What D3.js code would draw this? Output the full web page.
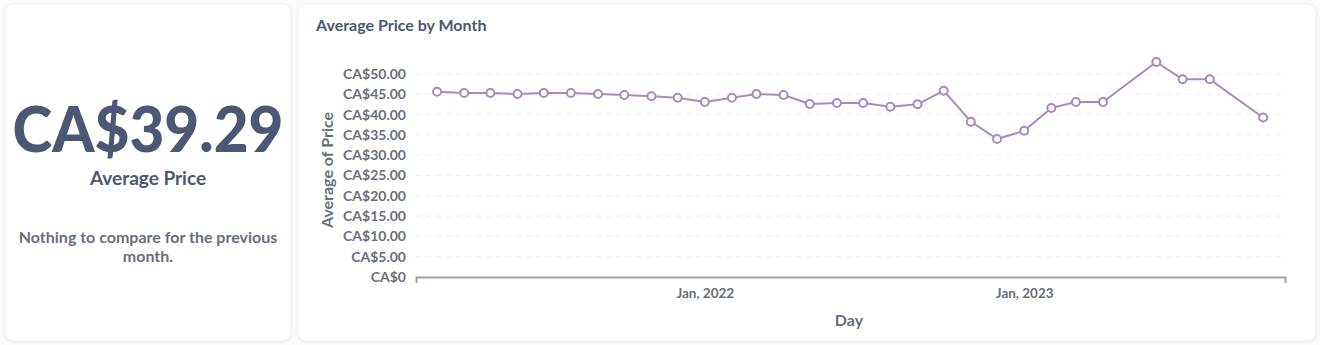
<!DOCTYPE html>
<html>
<head>
<meta charset="utf-8">
<script src="https://cdn.jsdelivr.net/npm/d3@7"></script>
<style>
  html, body { margin: 0; padding: 0; background: #f9fbfc; }
  svg { display: block; font-family: Lato, "Noto Sans", sans-serif; }
</style>
</head>
<body>
<svg id="dash" width="1320" height="345"></svg>
<script>
// Monthly average price (CA$)
const months = [
  "2021-03","2021-04","2021-05","2021-06","2021-07","2021-08","2021-09","2021-10",
  "2021-11","2021-12","2022-01","2022-02","2022-03","2022-04","2022-05","2022-06",
  "2022-07","2022-08","2022-09","2022-10","2022-11","2022-12","2023-01","2023-02",
  "2023-03","2023-04","2023-06","2023-07","2023-08","2023-10"
];
const prices = [
  45.64, 45.32, 45.32, 45.07, 45.32, 45.32, 45.07, 44.83,
  44.50, 44.16, 43.10, 44.16, 45.07, 44.83, 42.60, 42.86,
  42.86, 41.95, 42.54, 45.89, 38.25, 33.99, 36.03, 41.63,
  43.10, 43.10, 52.96, 48.69, 48.69, 39.29
];
const yTicks = [0, 5, 10, 15, 20, 25, 30, 35, 40, 45, 50];
const xTickDates = ["2022-01", "2023-01"];

const kpiValue = 39.29;
const kpiLabel = "Average Price";
const kpiNote = ["Nothing to compare for the previous", "month."];
const chartTitle = "Average Price by Month";
const yTitle = "Average of Price";
const xTitle = "Day";

const parseMonth = d3.timeParse("%Y-%m");
const data = months.map((m, i) => ({ date: parseMonth(m), value: prices[i] }));

const svg = d3.select("#dash");
const defs = svg.append("defs");
const shadow = defs.append("filter").attr("id", "cardShadow")
  .attr("x", "-5%").attr("y", "-5%").attr("width", "110%").attr("height", "110%");
shadow.append("feDropShadow").attr("dx", 0).attr("dy", 1).attr("stdDeviation", 1.5)
  .attr("flood-color", "#000").attr("flood-opacity", 0.06);

// Cards
const cards = [
  { x: 5, y: 4, w: 286, h: 337 },
  { x: 298, y: 4, w: 1018, h: 337 }
];
svg.selectAll("rect.card").data(cards).join("rect")
  .attr("class", "card")
  .attr("x", d => d.x).attr("y", d => d.y)
  .attr("width", d => d.w).attr("height", d => d.h)
  .attr("rx", 8)
  .attr("fill", "#ffffff")
  .attr("stroke", "#eceff2")
  .attr("filter", "url(#cardShadow)");

// Scalar card
const fmtMoney = v => "CA$" + d3.format(",.2f")(v);
const kpi = svg.append("g").attr("text-anchor", "middle");
kpi.append("text")
  .attr("x", 148).attr("y", 152)
  .attr("font-size", 62).attr("font-weight", 900)
  .attr("fill", "#4c5773")
  .attr("textLength", 271).attr("lengthAdjust", "spacingAndGlyphs")
  .text(fmtMoney(kpiValue));
kpi.append("text")
  .attr("x", 148).attr("y", 185)
  .attr("font-size", 19).attr("font-weight", 700)
  .attr("fill", "#4c5773")
  .text(kpiLabel);
kpi.selectAll("text.note").data(kpiNote).join("text")
  .attr("class", "note")
  .attr("x", 148).attr("y", (d, i) => 243 + i * 19)
  .attr("font-size", 16).attr("font-weight", 700)
  .attr("fill", "#696e7b")
  .text(d => d);

// Line chart card
svg.append("text")
  .attr("x", 316).attr("y", 31)
  .attr("font-size", 16).attr("font-weight", 700)
  .attr("fill", "#4c5773")
  .text(chartTitle);

const y = d3.scaleLinear().domain([0, 50]).range([277, 74]);

const first = data[0].date, last = data[data.length - 1].date;
const x = d3.scaleTime()
  .domain([d3.timeDay.offset(first, -24), d3.timeDay.offset(last, 25)])
  .range([416, 1285]);

// Gridlines
svg.append("g")
  .selectAll("line").data(yTicks.filter(t => t > 0)).join("line")
  .attr("x1", 416).attr("x2", 1285)
  .attr("y1", d => y(d)).attr("y2", d => y(d))
  .attr("stroke", "#ededed").attr("stroke-dasharray", "5,5");

// Y axis labels
const yFmt = v => v === 0 ? "CA$0" : "CA$" + d3.format(".2f")(v);
const yAxis = svg.append("g")
  .attr("transform", "translate(416,0)")
  .call(d3.axisLeft(y).tickValues(yTicks).tickFormat(yFmt).tickSize(0).tickPadding(10));
yAxis.select(".domain").remove();
yAxis.selectAll("text")
  .attr("font-family", "Lato, sans-serif")
  .attr("font-size", 14).attr("font-weight", 700)
  .attr("fill", "#696e7b");

// X axis
const xFmt = d3.timeFormat("%b, %Y");
const xAxis = svg.append("g")
  .attr("transform", "translate(0,277)")
  .call(d3.axisBottom(x)
    .tickValues(xTickDates.map(parseMonth))
    .tickFormat(xFmt)
    .tickSizeInner(0).tickSizeOuter(6).tickPadding(11));
xAxis.select(".domain").attr("stroke", "#9da1b0").attr("stroke-width", 2);
xAxis.selectAll("text")
  .attr("font-family", "Lato, sans-serif")
  .attr("font-size", 13.5).attr("font-weight", 700)
  .attr("fill", "#696e7b");

// Axis titles
svg.append("text")
  .attr("transform", "translate(333,170) rotate(-90)")
  .attr("text-anchor", "middle")
  .attr("font-size", 16).attr("font-weight", 700)
  .attr("fill", "#696e7b")
  .text(yTitle);
svg.append("text")
  .attr("x", 849).attr("y", 326)
  .attr("text-anchor", "middle")
  .attr("font-size", 16).attr("font-weight", 700)
  .attr("fill", "#696e7b")
  .text(xTitle);

// Series
const line = d3.line().x(d => x(d.date)).y(d => y(d.value));
svg.append("path")
  .datum(data)
  .attr("fill", "none")
  .attr("stroke", "#a989c5")
  .attr("stroke-width", 2)
  .attr("stroke-linejoin", "round")
  .attr("d", line);
svg.append("g")
  .selectAll("circle").data(data).join("circle")
  .attr("cx", d => x(d.date)).attr("cy", d => y(d.value))
  .attr("r", 4)
  .attr("fill", "#ffffff")
  .attr("stroke", "#a989c5")
  .attr("stroke-width", 2);
</script>
</body>
</html>
